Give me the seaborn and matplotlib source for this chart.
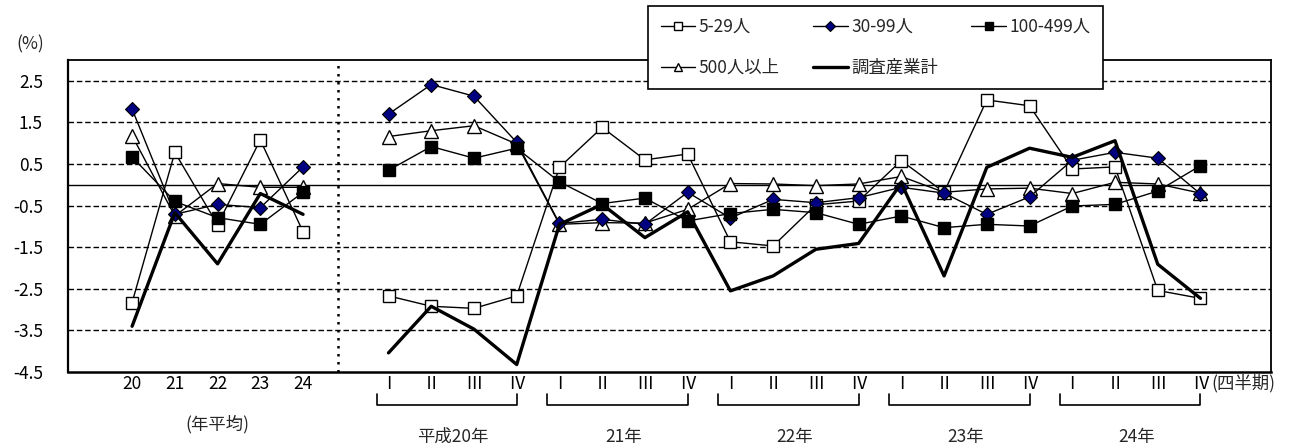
import numpy as np
import pandas as pd
import matplotlib
matplotlib.use("Agg")
import matplotlib.pyplot as plt
import matplotlib.transforms as mtransforms
from matplotlib.lines import Line2D
import seaborn as sns

# ---------------- data ----------------
annual_labels = ["20", "21", "22", "23", "24"]
quarter_labels = ["Ⅰ", "Ⅱ", "Ⅲ", "Ⅳ"] * 5
year_labels = ["平成20年", "21年", "22年", "23年", "24年"]
series_names = ["5-29人", "30-99人", "100-499人", "500人以上", "調査産業計"]

s5_29_annual = [-2.83, 0.78, -0.96, 1.08, -1.13]
s5_29_q = [-2.67, -2.92, -2.97, -2.67, 0.42, 1.38, 0.60, 0.74, -1.37, -1.47,
           -0.48, -0.39, 0.58, -0.18, 2.04, 1.90, 0.38, 0.43, -2.54, -2.73]

s30_99_annual = [1.82, -0.71, -0.47, -0.55, 0.43]
s30_99_q = [1.70, 2.41, 2.13, 1.02, -0.93, -0.83, -0.95, -0.18, -0.80, -0.35,
            -0.43, -0.31, -0.06, -0.20, -0.71, -0.29, 0.59, 0.78, 0.64, -0.22]

s100_499_annual = [0.67, -0.40, -0.79, -0.95, -0.18]
s100_499_q = [0.35, 0.92, 0.64, 0.88, 0.07, -0.45, -0.32, -0.87, -0.69, -0.59,
              -0.67, -0.95, -0.75, -1.03, -0.95, -0.99, -0.51, -0.47, -0.15, 0.46]

s500_annual = [1.18, -0.75, 0.03, -0.06, -0.06]
s500_q = [1.16, 1.30, 1.42, 0.98, -0.95, -0.91, -0.92, -0.59, 0.03, 0.02,
          -0.02, 0.02, 0.20, -0.18, -0.10, -0.08, -0.21, 0.06, 0.02, -0.20]

total_annual = [-3.40, -0.67, -1.90, -0.21, -0.71]
total_q = [-4.04, -2.92, -3.47, -4.32, -0.95, -0.47, -1.27, -0.65, -2.55, -2.19,
           -1.55, -1.41, 0.04, -2.19, 0.42, 0.88, 0.66, 1.06, -1.91, -2.73]

yticks = [2.5, 1.5, 0.5, -0.5, -1.5, -2.5, -3.5, -4.5]

# ---------------- style ----------------
sns.set_theme(style="white")
plt.rcParams["font.family"] = ["Noto Sans CJK JP", "DejaVu Sans"]
plt.rcParams["axes.unicode_minus"] = False
FS = 12.5

x_annual = np.arange(len(annual_labels))
x_quarter = np.arange(len(quarter_labels)) + len(annual_labels) + 1

styles = {
    "5-29人": dict(marker="s", markersize=8, markerfacecolor="white",
                  markeredgecolor="black", markeredgewidth=1.0, linewidth=1.0, zorder=3),
    "500人以上": dict(marker="^", markersize=9.5, markerfacecolor="white",
                   markeredgecolor="black", markeredgewidth=1.0, linewidth=1.0, zorder=4),
    "30-99人": dict(marker="D", markersize=7.5, markerfacecolor="#000080",
                   markeredgecolor="black", markeredgewidth=0.8, linewidth=1.0, zorder=5),
    "100-499人": dict(marker="s", markersize=8.5, markerfacecolor="black",
                     markeredgecolor="black", markeredgewidth=1.0, linewidth=1.0, zorder=6),
    "調査産業計": dict(marker=None, linewidth=2.4, zorder=7),
}
values = {
    "5-29人": (s5_29_annual, s5_29_q),
    "30-99人": (s30_99_annual, s30_99_q),
    "100-499人": (s100_499_annual, s100_499_q),
    "500人以上": (s500_annual, s500_q),
    "調査産業計": (total_annual, total_q),
}

fig = plt.figure(figsize=(12.96, 4.48), dpi=100)
ax = fig.add_axes([68 / 1296, 1 - 372 / 448, (1271 - 68) / 1296, (372 - 60) / 448])

for name in ["5-29人", "500人以上", "30-99人", "100-499人", "調査産業計"]:
    ann, q = values[name]
    for xs, ys in ((x_annual, ann), (x_quarter, q)):
        df = pd.DataFrame({"x": xs, "y": ys})
        sns.lineplot(data=df, x="x", y="y", ax=ax, color="black",
                     legend=False, estimator=None, **styles[name])

ax.set_xlim(-1.5, 26.65)
ax.set_ylim(-4.5, 3.0)
ax.set_yticks(yticks)
ax.set_yticklabels([f"{v:.1f}" for v in yticks])
ax.set_xticks(list(x_annual) + list(x_quarter))
ax.set_xticklabels(annual_labels + quarter_labels)
ax.set_xlabel("")
ax.set_ylabel("")
ax.tick_params(axis="y", length=0, pad=18, labelsize=FS, colors="black")
ax.tick_params(axis="x", length=0, pad=2, labelsize=FS, colors="black")

for v in yticks[:-1]:
    ax.axhline(v, color="black", linewidth=1.0, linestyle=(0, (4, 2)), zorder=1)
ax.axhline(0, color="black", linewidth=1.0, zorder=1)
ax.axvline(len(annual_labels) - 0.18, color="black", linewidth=1.8,
           linestyle=(0, (1, 2.2)), zorder=1)

for side in ["top", "right", "left", "bottom"]:
    ax.spines[side].set_color("black")
    ax.spines[side].set_linewidth(1.3)
ax.spines["bottom"].set_linewidth(1.8)
ax.spines["left"].set_linewidth(1.6)

# ---------- annotations below axis ----------
trans = mtransforms.blended_transform_factory(ax.transData, fig.transFigure)
fig.text(16 / 1296, 1 - 44 / 448, "(%)", fontsize=FS, va="center", ha="left")
ax.text(x_annual.mean(), 1 - 424 / 448, "(年平均)", transform=trans,
        ha="center", va="center", fontsize=FS)
ax.text(x_quarter[-1] + 0.25, 1 - 383 / 448, "(四半期)", transform=trans,
        ha="left", va="center", fontsize=FS)

y_br = 1 - 405 / 448
y_br_top = 1 - 394 / 448
for i, lab in enumerate(year_labels):
    q0 = x_quarter[i * 4]
    q3 = x_quarter[i * 4 + 3]
    xa, xb = q0 - 0.28, q3 + 0.0
    ax.plot([xa, xa, xb, xb], [y_br_top, y_br, y_br, y_br_top], transform=trans,
            color="black", linewidth=1.2, clip_on=False)
    ax.text((q0 + q3) / 2, 1 - 437 / 448, lab, transform=trans,
            ha="center", va="center", fontsize=FS)

# ---------- legend ----------
handles = {}
for name in series_names:
    st = dict(styles[name])
    st.pop("zorder", None)
    if st.get("marker"):
        st["markersize"] = st["markersize"] * 0.65
    handles[name] = Line2D([0], [0], color="black", **st)
order = ["5-29人", "500人以上", "30-99人", "調査産業計", "100-499人"]
leg = fig.legend([handles[n] for n in order], order, loc="upper left",
                 bbox_to_anchor=(648 / 1296, 1 - 10 / 448, (1103 - 648) / 1296, 0.01),
                 mode="expand", ncol=3, fontsize=FS, frameon=True, fancybox=False,
                 edgecolor="black", facecolor="white", framealpha=1,
                 handlelength=2.0, handletextpad=0.2, labelspacing=1.3,
                 borderaxespad=0, borderpad=0.72)
leg.get_frame().set_linewidth(1.2)
leg.set_zorder(20)

fig.savefig("out.png", dpi=100)
